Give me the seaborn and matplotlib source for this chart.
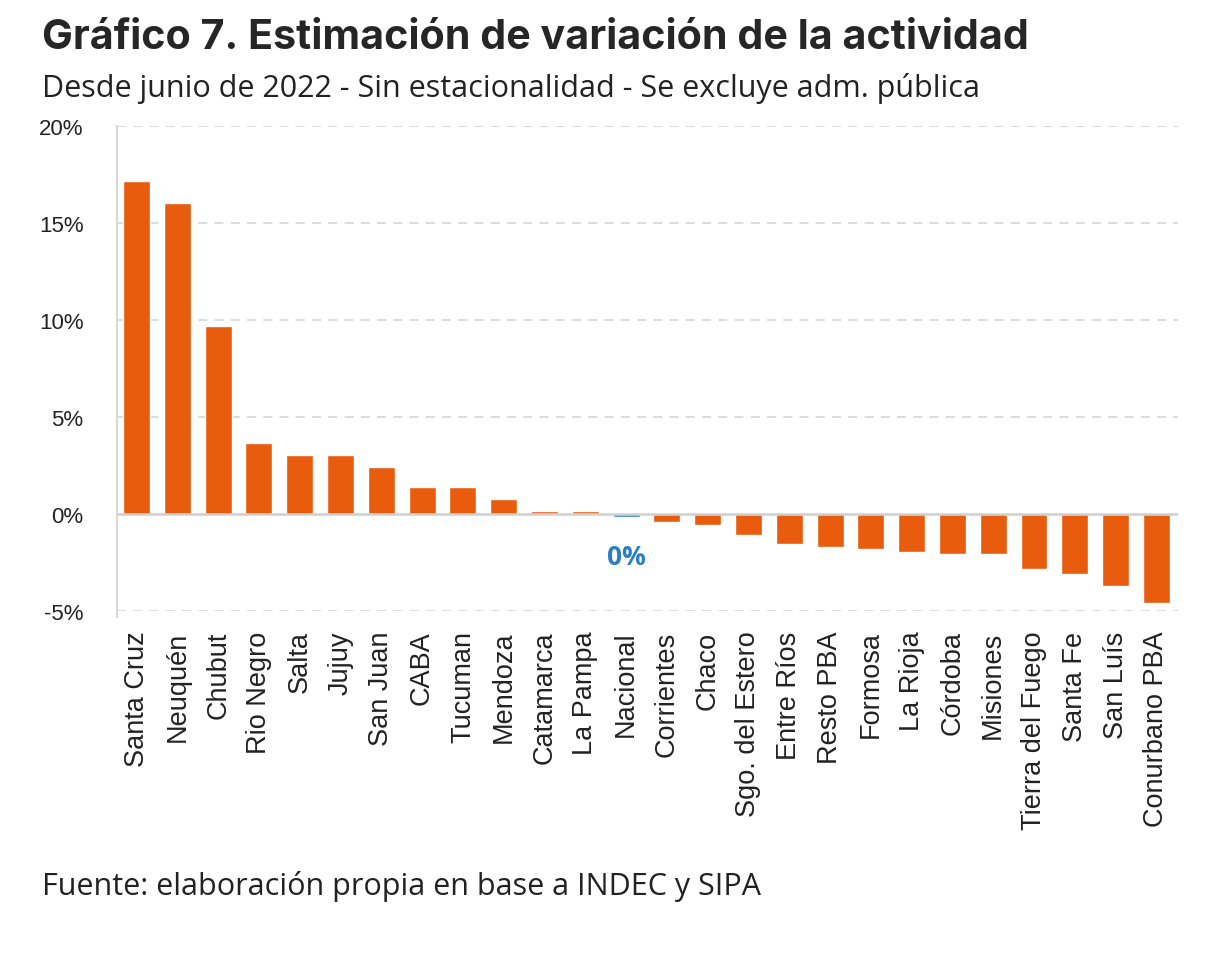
import numpy as np
import pandas as pd
import seaborn as sns
import matplotlib.pyplot as plt
from matplotlib.ticker import FuncFormatter

# values (% change since June 2022)
regiones = ["Santa Cruz", "Neuquén", "Chubut", "Rio Negro", "Salta", "Jujuy",
            "San Juan", "CABA", "Tucuman", "Mendoza", "Catamarca", "La Pampa",
            "Nacional", "Corrientes", "Chaco", "Sgo. del Estero", "Entre Ríos",
            "Resto PBA", "Formosa", "La Rioja", "Córdoba", "Misiones",
            "Tierra del Fuego", "Santa Fe", "San Luís", "Conurbano PBA"]
variacion = [17.15, 16.05, 9.7, 3.66, 3.04, 3.04,
             2.42, 1.4, 1.4, 0.78, 0.17, 0.17,
             -0.15, -0.43, -0.56, -1.07, -1.56,
             -1.7, -1.82, -1.94, -2.07, -2.07,
             -2.83, -3.09, -3.7, -4.57]
nacional_label = "0%"

NARANJA = "#E95C0E"
AZUL = "#2A7FC4"

df = pd.DataFrame({"region": regiones, "var": variacion})
df["tipo"] = np.where(df["region"] == "Nacional", "nac", "prov")

sns.set_style("white")
plt.rcParams["font.family"] = ["Liberation Sans", "DejaVu Sans"]

fig = plt.figure(figsize=(12.32, 9.54), dpi=100)
# axes: x from 117px to 1178px, y from -5% (612px) to 20% (127px)
ax = fig.add_axes([117 / 1232, 1 - 612 / 954, (1178 - 117) / 1232, (612 - 127) / 954])

sns.barplot(data=df, x="region", y="var", hue="tipo",
            palette={"nac": AZUL, "prov": NARANJA}, dodge=False,
            width=0.66, legend=False, ax=ax, saturation=1)

ax.set_ylim(-5, 20)
ax.set_xlim(-0.48, len(regiones) - 1 + 0.53)
ax.set_yticks([-5, 0, 5, 10, 15, 20])
ax.yaxis.set_major_formatter(FuncFormatter(lambda v, p: f"{v:.0f}%"))
ax.set_xlabel("")
ax.set_ylabel("")

# grid: dashed light grey, solid zero line
for v in [-5, 5, 10, 15, 20]:
    ax.axhline(v, color="#D9D9D9", lw=1.3, ls=(0, (5, 4)), zorder=0)
ax.axhline(0, color="#D0D0D0", lw=1.8, zorder=3)

for s in ["top", "right", "bottom"]:
    ax.spines[s].set_visible(False)
ax.spines["left"].set_color("#D9D9D9")
ax.spines["left"].set_linewidth(1.5)
ax.spines["left"].set_bounds(-5.3, 20)

ax.tick_params(axis="y", length=0, pad=24, labelsize=16, colors="#222222")
ax.tick_params(axis="x", length=0, pad=14, labelsize=19.5, colors="#222222")
plt.setp(ax.get_xticklabels(), rotation=90, ha="center", va="top")

# label for Nacional bar
i_nac = regiones.index("Nacional")
ax.text(i_nac, -2.2, nacional_label, color=AZUL, fontsize=19,
        fontweight="bold", ha="center", va="center", family=["Open Sans", "DejaVu Sans"])

fig.text(0.034, 0.96, "Gráfico 7. Estimación de variación de la actividad",
         fontsize=29.7, fontweight="bold", family=["Inter", "DejaVu Sans"], va="center")
fig.text(0.034, 0.907, "Desde junio de 2022 - Sin estacionalidad - Se excluye adm. pública",
         fontsize=22, family=["Open Sans", "DejaVu Sans"], va="center", color="#222222")
fig.text(0.034, 0.071, "Fuente: elaboración propia en base a INDEC y SIPA",
         fontsize=22, family=["Open Sans", "DejaVu Sans"], va="center", color="#222222")

fig.savefig("out.png", dpi=100, facecolor="white")
